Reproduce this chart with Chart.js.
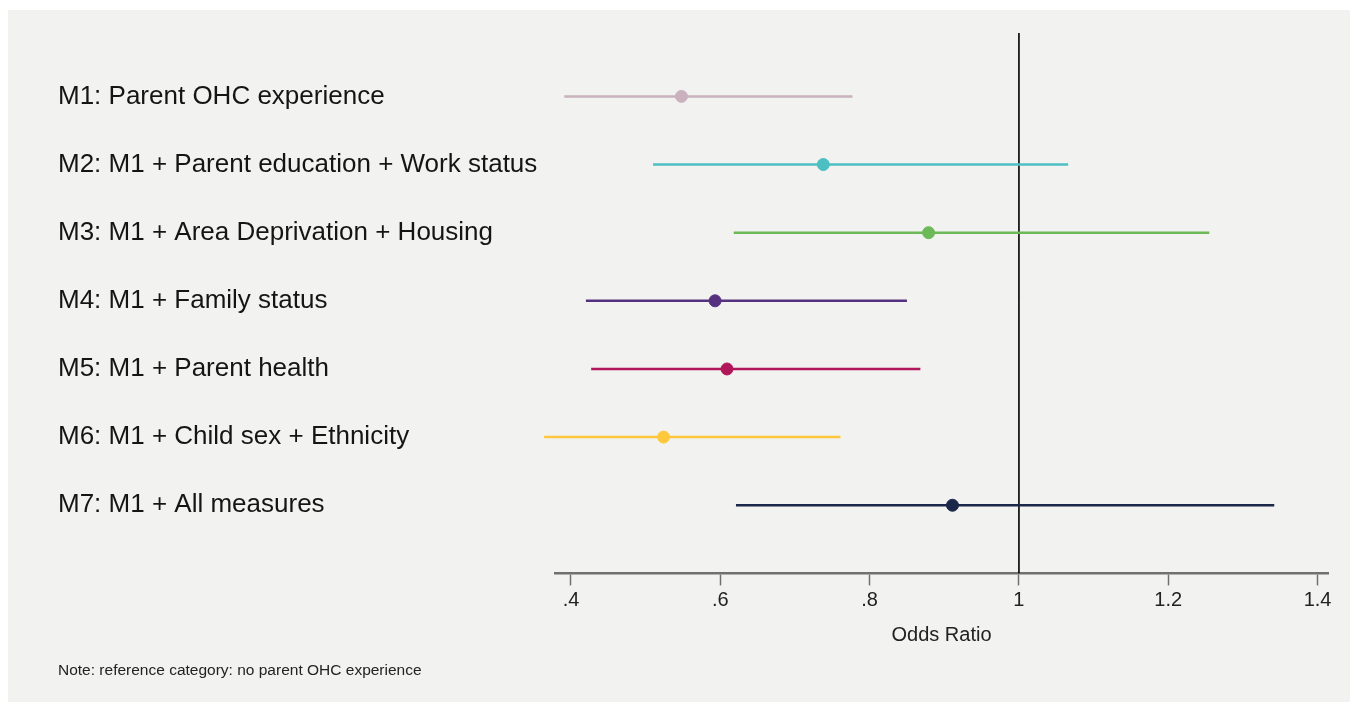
<!doctype html>
<html lang="en">

<head>
  <meta charset="utf-8">
  <meta name="viewport" content="width=device-width, initial-scale=1">
  <title>Odds Ratio by model</title>
  <script src="https://cdn.jsdelivr.net/npm/chart.js/dist/chart.umd.min.js"></script>
  <style>
    html, body {
      margin: 0;
      background: #ffffff;
    }

    .chartCard {
      position: absolute;
      left: 8px;
      top: 10px;
      right: 8px;
      bottom: 0;
      background: #f2f2f0;
    }

    .chartBox {
      position: absolute;
      left: -8px;
      top: -10px;
      width: 1358px;
      height: 702px;
    }
  </style>
</head>

<body>

  <div class="chartCard">
    <div class="chartBox">
      <canvas id="myChart"></canvas>
    </div>
  </div>

  <script>
    // model labels, top to bottom
    const models = [
      'M1: Parent OHC experience',
      'M2: M1 + Parent education + Work status',
      'M3: M1 + Area Deprivation + Housing',
      'M4: M1 + Family status',
      'M5: M1 + Parent health',
      'M6: M1 + Child sex + Ethnicity',
      'M7: M1 + All measures'
    ];
    const oddsRatio = [0.548, 0.738, 0.879, 0.593, 0.609, 0.524, 0.911];
    const ciLower = [0.391, 0.510, 0.618, 0.420, 0.427, 0.364, 0.621];
    const ciUpper = [0.777, 1.066, 1.255, 0.850, 0.868, 0.761, 1.342];
    const colors = ['#c9b1be', '#4cbfc3', '#6bb957', '#55317f', '#b1175b', '#fdc83c', '#1b2749'];
    const xTicks = [0.4, 0.6, 0.8, 1.0, 1.2, 1.4];
    const noteText = 'Note: reference category: no parent OHC experience';

    const font = "'Liberation Sans', Arial, Helvetica, sans-serif";

    // one line per confidence interval (not clipped: M6 starts left of the axis)
    const ciSets = models.map((m, i) => ({
      type: 'line',
      label: m,
      data: [{ x: ciLower[i], y: i }, { x: ciUpper[i], y: i }],
      borderColor: colors[i],
      borderWidth: 2.5,
      pointRadius: 0,
      clip: false,
      order: 2
    }));

    // vertical line at OR = 1
    const refLine = {
      type: 'line',
      label: 'ref',
      data: [{ x: 1, y: -0.93 }, { x: 1, y: 7 }],
      borderColor: '#111111',
      borderWidth: 1,
      pointRadius: 0,
      order: 3
    };

    const points = {
      type: 'scatter',
      label: 'Odds Ratio',
      data: oddsRatio.map((v, i) => ({ x: v, y: i })),
      backgroundColor: colors,
      borderColor: colors,
      pointRadius: 6,
      clip: false,
      order: 1
    };

    const config = {
      type: 'scatter',
      data: { datasets: [refLine, ...ciSets, points] },
      options: {
        responsive: false,
        animation: false,
        layout: {
          padding: { left: 58, right: 30, top: 33, bottom: 22 }
        },
        plugins: {
          legend: { display: false },
          tooltip: { enabled: false },
          title: {
            display: true,
            position: 'bottom',
            align: 'start',
            text: noteText,
            color: '#222222',
            font: { family: font, size: 15.5, weight: 'normal' },
            padding: { top: 14, bottom: 0 }
          }
        },
        scales: {
          x: {
            type: 'linear',
            min: 0.3786,
            max: 1.414,
            afterBuildTicks: axis => {
              axis.ticks = xTicks.map(v => ({ value: v }));
            },
            ticks: {
              color: '#222222',
              font: { family: font, size: 20 },
              padding: 3,
              maxRotation: 0,
              callback: v => {
                const s = (Math.round(v * 10) / 10).toString();
                return s.startsWith('0.') ? s.slice(1) : s;
              }
            },
            grid: {
              drawOnChartArea: false,
              color: '#707070',
              tickLength: 12,
              tickWidth: 1.5
            },
            border: { display: true, color: '#707070', width: 2.5 },
            title: {
              display: true,
              text: 'Odds Ratio',
              color: '#222222',
              font: { family: font, size: 20 },
              padding: { top: 8, bottom: 0 }
            }
          },
          y: {
            type: 'linear',
            reverse: true,
            min: -0.93,
            max: 7,
            afterBuildTicks: axis => {
              axis.ticks = models.map((m, i) => ({ value: i }));
            },
            afterFit: axis => {
              axis.width = 555 - 58;
            },
            ticks: {
              crossAlign: 'far',
              color: '#151515',
              font: { family: font, size: 26 },
              callback: v => models[v] || ''
            },
            grid: { display: false },
            border: { display: false }
          }
        }
      }
    };

    const canvas = document.getElementById('myChart');
    canvas.width = 1358;
    canvas.height = 702;
    new Chart(canvas, config);
  </script>

</body>

</html>
